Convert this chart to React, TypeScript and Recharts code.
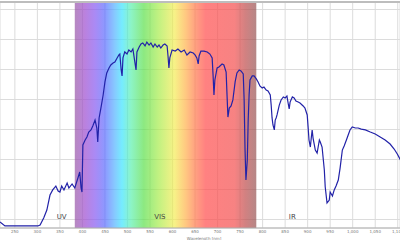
import React from "react";
import {
  LineChart,
  Line,
  XAxis,
  YAxis,
  CartesianGrid,
  ReferenceArea,
  ReferenceDot,
  ReferenceLine,
  Label,
} from "recharts";

// wavelength [nm]
const wavelengths = [
  217, 228, 301, 306, 314, 321, 328, 334, 341, 346, 350, 354, 359, 366, 370, 377, 383, 390, 394, 397,
  399, 401, 406, 410, 414, 419, 423, 428, 432, 434, 437, 441, 446, 450, 454, 459, 463, 468, 472, 477,
  481, 483, 486, 488, 490, 494, 499, 503, 508, 512, 519, 521, 526, 530, 534, 539, 543, 548, 552, 557,
  561, 566, 570, 574, 579, 583, 588, 590, 592, 594, 599, 606, 612, 619, 626, 632, 639, 646, 650, 654,
  657, 659, 663, 670, 677, 683, 688, 690, 692, 694, 699, 703, 710, 714, 719, 721, 723, 726, 730, 734,
  739, 743, 748, 752, 757, 759, 761, 763, 766, 768, 770, 772, 777, 781, 786, 790, 794, 799, 803, 808,
  812, 817, 819, 821, 823, 826, 828, 830, 832, 837, 841, 846, 850, 854, 857, 859, 861, 866, 870, 874,
  879, 883, 890, 894, 899, 901, 903, 906, 908, 910, 912, 917, 921, 926, 928, 932, 937, 939, 943, 948,
  950, 955, 959, 963, 968, 972, 977, 981, 986, 990, 994, 999, 1006, 1012, 1019, 1028, 1039, 1050, 1061, 1072,
  1083, 1092, 1099, 1106,
];

// spectral irradiance (relative)
const irradiance = [
  -0.017, -0.043, -0.043, -0.037, 0.01, 0.063, 0.163, 0.197, 0.223, 0.19, 0.183, 0.223, 0.197, 0.243, 0.21, 0.237, 0.21, 0.277, 0.317, 0.21,
  0.183, 0.497, 0.53, 0.55, 0.583, 0.597, 0.623, 0.663, 0.61, 0.517, 0.677, 0.743, 0.83, 0.917, 0.977, 1.01, 1.03, 1.043, 1.05, 1.077,
  1.097, 1.103, 0.997, 0.957, 1.077, 1.117, 1.103, 1.13, 1.117, 1.137, 0.997, 1.117, 1.15, 1.17, 1.177, 1.157, 1.183, 1.163, 1.177, 1.15,
  1.17, 1.15, 1.163, 1.143, 1.163, 1.17, 1.157, 1.09, 1.01, 1.077, 1.13, 1.123, 1.137, 1.117, 1.13, 1.097, 1.117, 1.11, 1.097, 1.077,
  1.037, 1.09, 1.123, 1.123, 1.117, 1.103, 1.077, 0.963, 0.83, 0.93, 1.01, 1.017, 1.037, 1.03, 0.983, 0.83, 0.683, 0.743, 0.757, 0.797,
  0.917, 0.977, 0.997, 0.99, 0.97, 0.797, 0.463, 0.263, 0.397, 0.663, 0.83, 0.93, 0.957, 0.957, 0.937, 0.917, 0.89, 0.877, 0.883, 0.863,
  0.857, 0.83, 0.763, 0.677, 0.63, 0.597, 0.663, 0.677, 0.697, 0.763, 0.797, 0.817, 0.81, 0.823, 0.77, 0.737, 0.783, 0.817, 0.81, 0.79,
  0.783, 0.777, 0.757, 0.743, 0.697, 0.617, 0.53, 0.483, 0.543, 0.597, 0.543, 0.463, 0.443, 0.53, 0.517, 0.483, 0.33, 0.217, 0.11, 0.13,
  0.183, 0.157, 0.197, 0.223, 0.263, 0.343, 0.463, 0.49, 0.53, 0.563, 0.597, 0.617, 0.61, 0.61, 0.603, 0.597, 0.583, 0.57, 0.55, 0.53,
  0.503, 0.47, 0.437, 0.397,
];

const xTicks = [250, 300, 350, 400, 450, 500, 550, 600, 650, 700, 750, 800, 850, 900, 950, 1000, 1050, 1100];
const yTicks = [0, 0.1, 0.2, 0.3, 0.4, 0.5, 0.6, 0.7, 0.8, 0.9, 1.0, 1.1, 1.2, 1.3, 1.4];
const visibleBand = [383, 786];

const data = wavelengths.map((w, i) => ({ w, v: irradiance[i] }));

const spectrumStops = [
  { o: 0, c: "#9a5aa8" },
  { o: 0.055, c: "#a050d0" },
  { o: 0.11, c: "#8a5cf0" },
  { o: 0.166, c: "#6070ff" },
  { o: 0.22, c: "#58b4ff" },
  { o: 0.26, c: "#40e4ff" },
  { o: 0.31, c: "#60f0b0" },
  { o: 0.38, c: "#60e050" },
  { o: 0.46, c: "#a8ec50" },
  { o: 0.55, c: "#f4ec58" },
  { o: 0.61, c: "#ffb450" },
  { o: 0.66, c: "#ff8050" },
  { o: 0.72, c: "#ff5050" },
  { o: 0.88, c: "#f45252" },
  { o: 0.94, c: "#c05050" },
  { o: 1, c: "#985858" },
];

const fmt = (n: number) => n.toLocaleString("en-US");
const regionLabel = (value: string) => ({
  value,
  position: "center" as const,
  fontSize: 7,
  fill: "#444",
  stroke: "none",
  fontFamily: "DejaVu Sans",
});

export default function App() {
  return (
    <div style={{ position: "absolute", left: 0, top: 0, width: 400, height: 240, background: "#fff" }}>
      <LineChart width={400} height={240} data={data} margin={{ top: 2, right: 0, bottom: 0, left: 0 }}>
        <defs>
          <linearGradient id="spec" x1="0" y1="0" x2="1" y2="0">
            {spectrumStops.map(s => (
              <stop key={s.o} offset={s.o} stopColor={s.c} stopOpacity={0.72} />
            ))}
          </linearGradient>
        </defs>
        <CartesianGrid stroke="#dcdcdc" strokeWidth={1} />
        <XAxis
          type="number"
          dataKey="w"
          domain={[217, 1105]}
          allowDataOverflow
          ticks={xTicks}
          tickFormatter={fmt}
          interval={0}
          tickLine={false}
          tickSize={0}
          tickMargin={2}
          height={12}
          axisLine={{ stroke: "#b0b0b0" }}
          tick={{ fontSize: 4, fill: "#777", fontFamily: "DejaVu Sans" }}
        >
          <Label
            value="Wavelength [nm]"
            position="insideBottom"
            offset={0.5}
            dx={4}
            style={{ fontSize: 4, fill: "#777", fontFamily: "DejaVu Sans" }}
          />
        </XAxis>
        <YAxis hide domain={[-0.0567, 1.45]} ticks={yTicks} allowDataOverflow />
        <ReferenceArea x1={visibleBand[0]} x2={visibleBand[1]} fill="url(#spec)" fillOpacity={1} strokeWidth={0} />
        <ReferenceLine y={1.45} stroke="#bdbdbd" strokeWidth={2} />
        <Line
          type="linear"
          dataKey="v"
          stroke="#2222a8"
          strokeWidth={1.2}
          dot={false}
          isAnimationActive={false}
        />
        <ReferenceDot x={354} y={0.023} r={0} fill="none" stroke="none" label={regionLabel("UV")} />
        <ReferenceDot x={572} y={0.023} r={0} fill="none" stroke="none" label={regionLabel("VIS")} />
        <ReferenceDot x={866} y={0.02} r={0} fill="none" stroke="none" label={regionLabel("IR")} />
      </LineChart>
    </div>
  );
}
